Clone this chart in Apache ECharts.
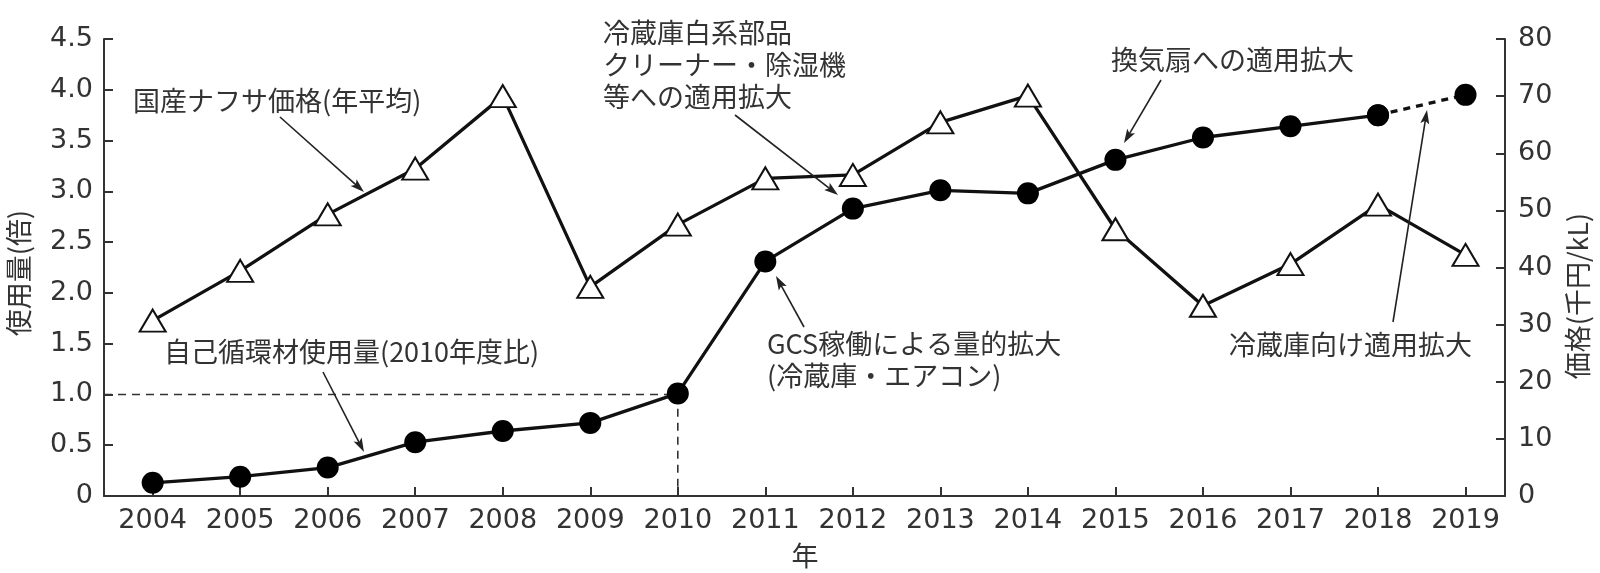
<!DOCTYPE html>
<html>
<head>
<meta charset="utf-8">
<script src="https://cdn.jsdelivr.net/npm/echarts@6/dist/echarts.min.js"></script>
<style>
  html, body { margin: 0; padding: 0; background: #fff; }
  #chart { width: 1600px; height: 573px; }
</style>
</head>
<body>
<div id="chart"></div>
<script>
// ---- data ----
const years = [2004, 2005, 2006, 2007, 2008, 2009, 2010, 2011, 2012, 2013, 2014, 2015, 2016, 2017, 2018, 2019];
// 自己循環材使用量(2010年度比) [倍]  (2018→2019 drawn dashed)
const usage = [0.13, 0.19, 0.28, 0.53, 0.64, 0.72, 1.01, 2.31, 2.83, 3.01, 2.98, 3.31, 3.53, 3.64, 3.75, 3.95];
// 国産ナフサ価格(年平均) [千円/kL]
const naphthaPrice = [30.7, 39.4, 49.3, 57.3, 70.0, 36.6, 47.5, 55.6, 56.2, 65.4, 70.1, 46.7, 33.3, 40.6, 51.0, 42.2];
// reference: 2010 = 1.0
const baseYear = 2010;
const baseValue = 1.0;
// axes
const leftAxis = { min: 0, max: 4.5, interval: 0.5, name: '使用量(倍)' };
const rightAxis = { min: 0, max: 80, interval: 10, name: '価格(千円/kL)' };
const xAxisName = '年';
const xMin = 2003.444, xMax = 2019.451;

// ---- chart ----
const chart = echarts.init(document.getElementById('chart'), null, { renderer: 'canvas' });
const TXT = '#333';
const LINE = '#111';
const numFont = 'DejaVu Sans';
const jpFont = "'Noto Sans CJK JP'";

const solidUsage = years.slice(0, -1).map((y, i) => [y, usage[i]]);
const projUsage = years.slice(-2).map((y, i) => [y, usage[usage.length - 2 + i]]);
const priceData = years.map((y, i) => [y, naphthaPrice[i]]);
const refLine = [[xMin, baseValue], [baseYear, baseValue], [baseYear, 0]];

const grid = { left: 104, right: 95, top: 39, bottom: 77 };

const option = {
  animation: false,
  backgroundColor: '#fff',
  grid: grid,
  xAxis: {
    type: 'value', min: xMin, max: xMax,
    axisLine: { show: true, lineStyle: { color: TXT, width: 2 } },
    axisTick: { show: true, inside: true, length: 9, lineStyle: { color: TXT, width: 2 }, customValues: years },
    axisLabel: { customValues: years, formatter: v => String(v), color: TXT, fontSize: 27, fontFamily: numFont, margin: 11 },
    splitLine: { show: false }
  },
  yAxis: [
    {
      type: 'value', min: leftAxis.min, max: leftAxis.max, interval: leftAxis.interval, position: 'left',
      axisLine: { show: true, lineStyle: { color: TXT, width: 2 } },
      axisTick: { show: true, inside: true, length: 9, lineStyle: { color: TXT, width: 2 } },
      axisLabel: { color: TXT, fontSize: 27, fontFamily: numFont, margin: 11,
        formatter: v => v === 0 ? '0' : v.toFixed(1) },
      splitLine: { show: false }
    },
    {
      type: 'value', min: rightAxis.min, max: rightAxis.max, interval: rightAxis.interval, position: 'right',
      axisLine: { show: true, lineStyle: { color: TXT, width: 2 } },
      axisTick: { show: true, inside: true, length: 9, lineStyle: { color: TXT, width: 2 } },
      axisLabel: { color: TXT, fontSize: 27, fontFamily: numFont, margin: 13 },
      splitLine: { show: false }
    }
  ],
  series: [
    {
      name: 'ref', type: 'line', data: refLine, yAxisIndex: 0, symbol: 'none', z: 1,
      lineStyle: { color: '#333', width: 1.6, type: [8, 6] }, silent: true
    },
    {
      name: '国産ナフサ価格', type: 'line', data: priceData, yAxisIndex: 1, z: 3,
      symbol: 'triangle', symbolSize: [26, 22],
      itemStyle: { color: '#fff', borderColor: LINE, borderWidth: 2 },
      lineStyle: { color: LINE, width: 3.3 }
    },
    {
      name: '自己循環材使用量', type: 'line', data: solidUsage, yAxisIndex: 0, z: 4,
      symbol: 'circle', symbolSize: 22,
      itemStyle: { color: '#000' },
      lineStyle: { color: LINE, width: 3.3 }
    },
    {
      name: '自己循環材使用量(予)', type: 'line', data: projUsage, yAxisIndex: 0, z: 4,
      symbol: 'circle', symbolSize: 22,
      itemStyle: { color: '#000' },
      lineStyle: { color: LINE, width: 3.3, type: [7, 6] }
    }
  ]
};
chart.setOption(option);

// ---- annotations ----
function arrow(x1, y1, x2, y2) {
  const dx = x2 - x1, dy = y2 - y1, L = Math.sqrt(dx * dx + dy * dy);
  const ux = dx / L, uy = dy / L, len = 14, hw = 4.5;
  const bx = x2 - ux * len, by = y2 - uy * len;
  return [
    { type: 'line', shape: { x1: x1, y1: y1, x2: bx + ux * 4, y2: by + uy * 4 }, style: { stroke: '#222', lineWidth: 1.6 }, z: 10 },
    { type: 'polygon', shape: { points: [[x2, y2], [bx - uy * hw, by + ux * hw], [bx + ux * 3, by + uy * 3], [bx + uy * hw, by - ux * hw]] }, style: { fill: '#222' }, z: 10 }
  ];
}
function label(text, x, y, opt) {
  return Object.assign({ type: 'text', x: x, y: y, z: 11,
    style: { text: text, font: '27px ' + jpFont, fill: TXT, align: 'left', verticalAlign: 'middle', lineHeight: 32 } }, opt || {});
}

const graphics = [].concat(
  [label('国産ナフサ価格(年平均)', 133, 101)],
  arrow(280, 117, 364, 192),
  [label('冷蔵庫白系部品\nクリーナー・除湿機\n等への適用拡大', 603, 65)],
  arrow(735, 115, 838, 195),
  [label('換気扇への適用拡大', 1111, 60)],
  arrow(1161, 80, 1124, 143),
  [label('GCS稼働による量的拡大\n(冷蔵庫・エアコン)', 767, 360)],
  arrow(804, 327, 776, 276),
  [label('自己循環材使用量(2010年度比)', 164, 352)],
  arrow(323, 372, 364, 452),
  [label('冷蔵庫向け適用拡大', 1229, 345)],
  arrow(1393, 322, 1427, 110),
  [
    { type: 'text', x: 19, y: 273, rotation: Math.PI / 2, z: 11,
      style: { text: leftAxis.name, font: '27px ' + jpFont, fill: TXT, align: 'center', verticalAlign: 'middle' } },
    { type: 'text', x: 1578, y: 296, rotation: Math.PI / 2, z: 11,
      style: { text: rightAxis.name, font: '27px ' + jpFont, fill: TXT, align: 'center', verticalAlign: 'middle' } },
    { type: 'text', x: 805, y: 556, z: 11,
      style: { text: xAxisName, font: '27px ' + jpFont, fill: TXT, align: 'center', verticalAlign: 'middle' } }
  ]
);
chart.setOption({ graphic: graphics });
</script>
</body>
</html>
